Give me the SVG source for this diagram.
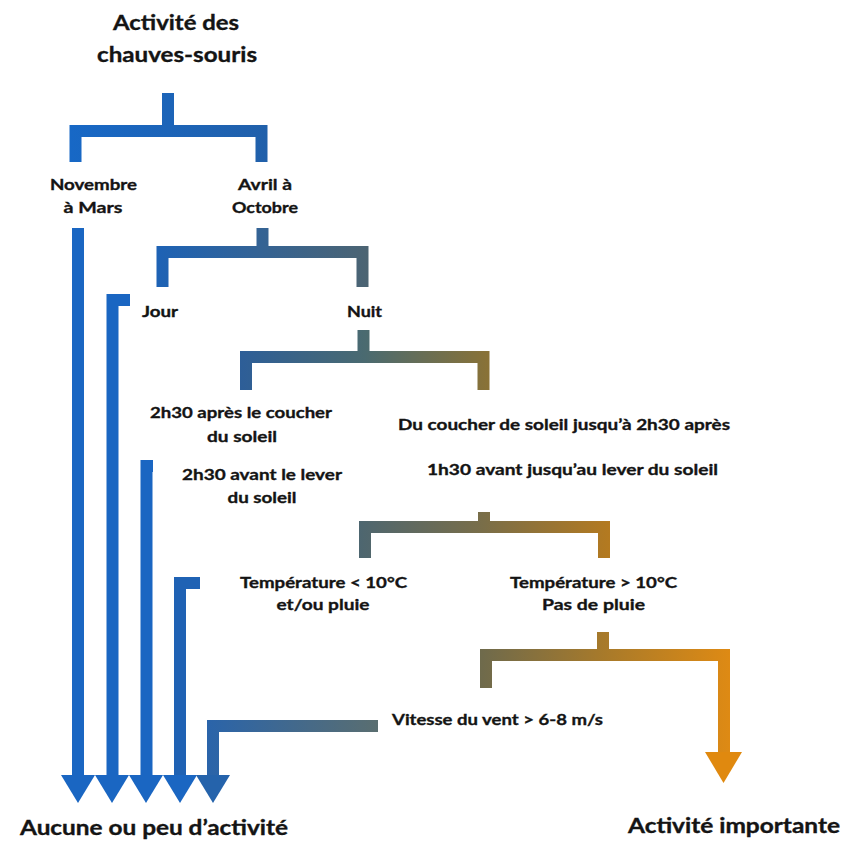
<svg xmlns="http://www.w3.org/2000/svg" width="849" height="848" viewBox="0 0 849 848">
<defs>
<style>
text{font-family:Lato,"Liberation Sans",sans-serif;font-weight:700;fill:#141414;stroke:#141414;stroke-width:0.35px;text-anchor:middle}
.t{font-size:16px}
.h{font-size:21px}
.f{font-size:20px}
.c{fill:none;stroke-width:12;stroke-linejoin:miter;stroke-linecap:butt}
.b{stroke:#1a66c2}
</style>
<linearGradient id="g1" gradientUnits="userSpaceOnUse" x1="69" y1="0" x2="268" y2="0"><stop offset="0" stop-color="#1768c6"/><stop offset="1" stop-color="#2160aa"/></linearGradient>
<linearGradient id="g2" gradientUnits="userSpaceOnUse" x1="156" y1="0" x2="369" y2="0"><stop offset="0" stop-color="#1d62b5"/><stop offset="1" stop-color="#4c6472"/></linearGradient>
<linearGradient id="g3" gradientUnits="userSpaceOnUse" x1="240" y1="0" x2="490" y2="0"><stop offset="0" stop-color="#2d5e98"/><stop offset="0.5" stop-color="#4a6a70"/><stop offset="1" stop-color="#8a7236"/></linearGradient>
<linearGradient id="g4" gradientUnits="userSpaceOnUse" x1="359" y1="0" x2="610" y2="0"><stop offset="0" stop-color="#4d6670"/><stop offset="0.5" stop-color="#7a6e48"/><stop offset="1" stop-color="#b47a20"/></linearGradient>
<linearGradient id="g5" gradientUnits="userSpaceOnUse" x1="480" y1="0" x2="730" y2="0"><stop offset="0" stop-color="#6e6a4c"/><stop offset="0.5" stop-color="#a87a2a"/><stop offset="1" stop-color="#de8a14"/></linearGradient>
<linearGradient id="g6" gradientUnits="userSpaceOnUse" x1="207" y1="0" x2="378" y2="0"><stop offset="0" stop-color="#2a64aa"/><stop offset="1" stop-color="#5a6e70"/></linearGradient>
</defs>
<rect width="849" height="848" fill="#ffffff"/>

<g id="connectors">
<path class="c" stroke="url(#g1)" d="M168 93V131"/>
<path class="c" stroke="url(#g1)" d="M75.5 162V131H261.5V162"/>
<path class="c" stroke="url(#g2)" d="M262.5 228V252"/>
<path class="c" stroke="url(#g2)" d="M162.5 287V252H362.5V287"/>
<path class="c" stroke="url(#g3)" d="M363.5 330V357"/>
<path class="c" stroke="url(#g3)" d="M246 390V357H483.5V390"/>
<path class="c" stroke="url(#g4)" d="M484 512V527"/>
<path class="c" stroke="url(#g4)" d="M365 558V527H604V558"/>
<path class="c" stroke="url(#g5)" d="M603 632V655"/>
<path class="c" stroke="url(#g5)" d="M486 688V655H724V752"/>
<polygon points="705,752 742,752 723.5,783" fill="#e0890f"/>

<path class="c b" d="M78 228V776"/>
<path class="c b" d="M130 300H112.5V776"/>
<path class="c b" d="M153 466H146.5V776"/>
<path class="c" stroke="#1f62b4" d="M200 583H180V776"/>
<path class="c" stroke="url(#g6)" d="M378 726H213V776"/>
<g fill="#1a66c2">
<polygon points="61,775 95,775 78,803"/>
<polygon points="95,775 129,775 112,803"/>
<polygon points="129,775 163,775 146,803"/>
<polygon points="163,775 197,775 180,803"/>
</g>
<polygon points="196,775 230,775 213,803" fill="#2563ab"/>
</g>

<g id="title"><text class="h" x="176" y="30" textLength="126" lengthAdjust="spacingAndGlyphs">Activité des</text><text class="h" x="177" y="62" textLength="160" lengthAdjust="spacingAndGlyphs">chauves-souris</text></g>
<g id="novembre"><text class="t" x="93.5" y="190" textLength="87" lengthAdjust="spacingAndGlyphs">Novembre</text><text class="t" x="93" y="213" textLength="59" lengthAdjust="spacingAndGlyphs">à Mars</text></g>
<g id="avril"><text class="t" x="265" y="190" textLength="54" lengthAdjust="spacingAndGlyphs">Avril à</text><text class="t" x="265" y="213" textLength="66" lengthAdjust="spacingAndGlyphs">Octobre</text></g>
<g id="jour"><text class="t" x="160" y="317" textLength="36" lengthAdjust="spacingAndGlyphs">Jour</text></g>
<g id="nuit"><text class="t" x="364.5" y="317" textLength="35" lengthAdjust="spacingAndGlyphs">Nuit</text></g>
<g id="apres-coucher"><text class="t" x="241" y="418" textLength="182" lengthAdjust="spacingAndGlyphs">2h30 après le coucher</text><text class="t" x="242" y="442" textLength="70" lengthAdjust="spacingAndGlyphs">du soleil</text></g>
<g id="avant-lever"><text class="t" x="262" y="480" textLength="160" lengthAdjust="spacingAndGlyphs">2h30 avant le lever</text><text class="t" x="262" y="503" textLength="69" lengthAdjust="spacingAndGlyphs">du soleil</text></g>
<g id="coucher"><text class="t" x="564" y="430" textLength="332" lengthAdjust="spacingAndGlyphs">Du coucher de soleil jusqu’à 2h30 après</text></g>
<g id="lever"><text class="t" x="572.5" y="475" textLength="291" lengthAdjust="spacingAndGlyphs">1h30 avant jusqu’au lever du soleil</text></g>
<g id="temp-basse"><text class="t" x="323.5" y="588" textLength="167" lengthAdjust="spacingAndGlyphs">Température &lt; 10°C</text><text class="t" x="323" y="610" textLength="93" lengthAdjust="spacingAndGlyphs">et/ou pluie</text></g>
<g id="temp-haute"><text class="t" x="593.5" y="588" textLength="167" lengthAdjust="spacingAndGlyphs">Température &gt; 10°C</text><text class="t" x="593.5" y="610" textLength="103" lengthAdjust="spacingAndGlyphs">Pas de pluie</text></g>
<g id="vent"><text class="t" x="497.5" y="725" textLength="211" lengthAdjust="spacingAndGlyphs">Vitesse du vent &gt; 6-8 m/s</text></g>
<g id="aucune"><text class="f" x="154" y="835" textLength="268" lengthAdjust="spacingAndGlyphs">Aucune ou peu d’activité</text></g>
<g id="importante"><text class="f" x="734" y="833" textLength="212" lengthAdjust="spacingAndGlyphs">Activité importante</text></g>
</svg>
